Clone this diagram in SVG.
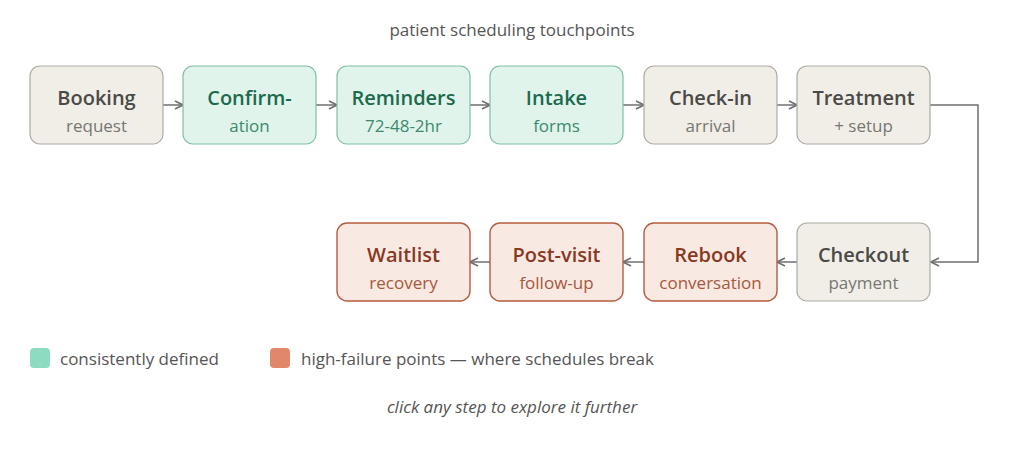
<svg xmlns="http://www.w3.org/2000/svg" width="1024" height="466" viewBox="0 0 1024 466">
<defs>
<marker id="arr" viewBox="0 0 10 10" refX="9" refY="5" markerWidth="10" markerHeight="10" markerUnits="userSpaceOnUse" orient="auto">
<path d="M1,1 L9,5 L1,9" fill="none" stroke="#6f6f6f" stroke-width="1.6"/>
</marker>
<style>
text{font-family:"Open Sans","Noto Sans","Liberation Sans",sans-serif;text-anchor:middle}
.t{font-size:20px;font-weight:600}
.s{font-size:17px}
.g rect{fill:#f1eee8;stroke:#aeaba4;stroke-width:1.2}
.g .t{fill:#4a4a47}.g .s{fill:#777672}
.c rect{fill:#e1f4ec;stroke:#7fbfa6;stroke-width:1.2}
.c .t{fill:#1c6a4c}.c .s{fill:#3a8a6b}
.r rect{fill:#f9e9e3;stroke:#b55c3f;stroke-width:1.4}
.r .t{fill:#873a1f}.r .s{fill:#a6583b}
.con{fill:none;stroke:#6f6f6f;stroke-width:1.5;marker-end:url(#arr)}
.leg{font-size:17px;fill:#555;text-anchor:start}
</style>
</defs>
<rect width="1024" height="466" fill="#ffffff"/>
<text x="512" y="36" style="font-size:17px;fill:#555">patient scheduling touchpoints</text>
<g id="connectors">
<path class="con" d="M163,105 L183,105"/>
<path class="con" d="M316,105 L337,105"/>
<path class="con" d="M470,105 L490,105"/>
<path class="con" d="M623,105 L644,105"/>
<path class="con" d="M777,105 L797,105"/>
<path class="con" d="M930,105 L978,105 L978,262 L931,262"/>
<path class="con" d="M797,262 L777,262"/>
<path class="con" d="M644,262 L623,262"/>
<path class="con" d="M490,262 L470,262"/>
</g>
<g id="booking" class="g"><rect x="30" y="66" width="133" height="78" rx="10"/><text class="t" x="96.5" y="105">Booking</text><text class="s" x="96.5" y="132">request</text></g>
<g id="confirmation" class="c"><rect x="183" y="66" width="133" height="78" rx="10"/><text class="t" x="249.5" y="105">Confirm-</text><text class="s" x="249.5" y="132">ation</text></g>
<g id="reminders" class="c"><rect x="337" y="66" width="133" height="78" rx="10"/><text class="t" x="403.5" y="105">Reminders</text><text class="s" x="403.5" y="132">72-48-2hr</text></g>
<g id="intake" class="c"><rect x="490" y="66" width="133" height="78" rx="10"/><text class="t" x="556.5" y="105">Intake</text><text class="s" x="556.5" y="132">forms</text></g>
<g id="checkin" class="g"><rect x="644" y="66" width="133" height="78" rx="10"/><text class="t" x="710.5" y="105">Check-in</text><text class="s" x="710.5" y="132">arrival</text></g>
<g id="treatment" class="g"><rect x="797" y="66" width="133" height="78" rx="10"/><text class="t" x="863.5" y="105">Treatment</text><text class="s" x="863.5" y="132">+ setup</text></g>
<g id="checkout" class="g"><rect x="797" y="223" width="133" height="78" rx="10"/><text class="t" x="863.5" y="262">Checkout</text><text class="s" x="863.5" y="289">payment</text></g>
<g id="rebook" class="r"><rect x="644" y="223" width="133" height="78" rx="10"/><text class="t" x="710.5" y="262">Rebook</text><text class="s" x="710.5" y="289">conversation</text></g>
<g id="postvisit" class="r"><rect x="490" y="223" width="133" height="78" rx="10"/><text class="t" x="556.5" y="262">Post-visit</text><text class="s" x="556.5" y="289">follow-up</text></g>
<g id="waitlist" class="r"><rect x="337" y="223" width="133" height="78" rx="10"/><text class="t" x="403.5" y="262">Waitlist</text><text class="s" x="403.5" y="289">recovery</text></g>
<g id="legend">
<rect x="30" y="348" width="20" height="20" rx="4" fill="#8ddbc0"/>
<text class="leg" x="60" y="365">consistently defined</text>
<rect x="270" y="348" width="20" height="20" rx="4" fill="#e2876a"/>
<text class="leg" x="301" y="365">high-failure points — where schedules break</text>
</g>
<text x="512" y="413" style="font-size:17px;font-style:italic;fill:#555">click any step to explore it further</text>
</svg>
